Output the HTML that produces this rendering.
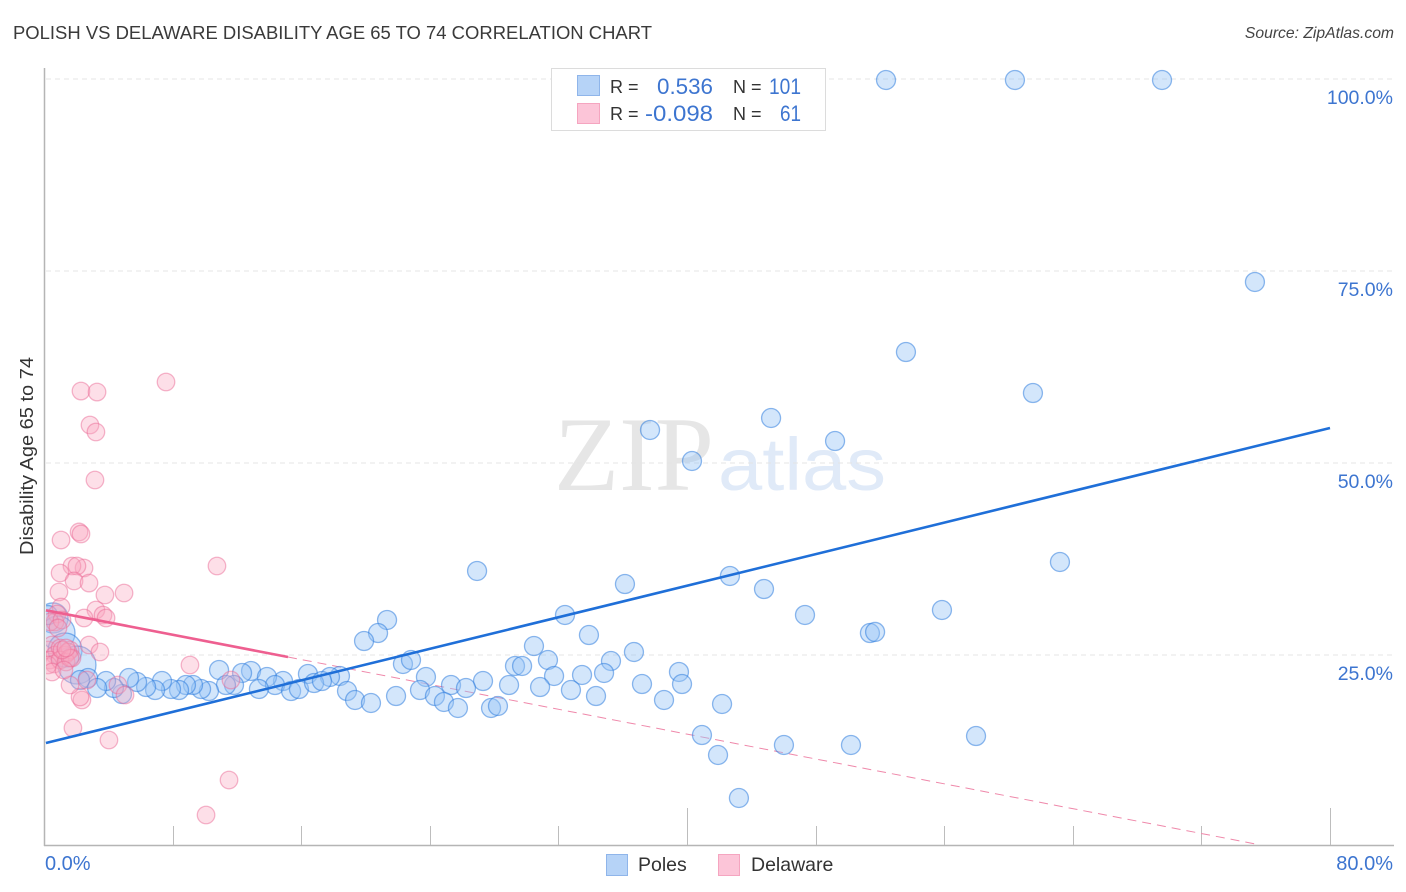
<!DOCTYPE html>
<html lang="en">
<head>
<meta charset="utf-8">
<title>Polish vs Delaware Disability Age 65 to 74 Correlation Chart</title>
<style>
html,body{margin:0;padding:0;background:#fff;}
body{width:1406px;height:892px;overflow:hidden;font-family:"Liberation Sans",sans-serif;}
svg{display:block;}
text{font-family:"Liberation Sans",sans-serif;}
</style>
</head>
<body>
<svg id="chart" xmlns="http://www.w3.org/2000/svg" width="1406" height="892" viewBox="0 0 1406 892">
  <defs>
    <clipPath id="plot-clip"><rect x="46" y="60" width="1348" height="785"/></clipPath>
  </defs>
  <rect width="1406" height="892" fill="#fff"/>
  <text x="13" y="39" font-size="18.5" fill="#3a3a3a" textLength="639" lengthAdjust="spacingAndGlyphs">POLISH VS DELAWARE DISABILITY AGE 65 TO 74 CORRELATION CHART</text>
  <text x="1394" y="38" font-size="15.7" font-style="italic" fill="#444" text-anchor="end">Source: ZipAtlas.com</text>
  <text x="0" y="0" transform="translate(33,456) rotate(-90)" font-size="18" fill="#333" text-anchor="middle" textLength="198" lengthAdjust="spacingAndGlyphs">Disability Age 65 to 74</text>

  <g>
    <text x="554" y="490" font-size="106" fill="#e6e6e6" textLength="160" lengthAdjust="spacingAndGlyphs" style="font-family:'Liberation Serif',serif">ZIP</text>
    <text x="718" y="490" font-size="74" fill="#e0eaf8" textLength="168" lengthAdjust="spacingAndGlyphs">atlas</text>
  </g>

  <g id="grid"></g>
  <g id="axes"></g>
  <g id="dashed"></g>
  <g id="bubbles" clip-path="url(#plot-clip)"></g>
  <g id="trends"></g>
  <g id="labels"></g>

  <g>
    <rect x="551.5" y="68.5" width="274" height="62" fill="#fff" stroke="#dcdcdc" stroke-width="1"/>
    <rect x="577.5" y="75.5" width="22" height="20" fill="#b6d3f7" stroke="#8fb5ea"/>
    <rect x="577.5" y="103.5" width="22" height="20" fill="#fcc5d8" stroke="#f5a5c0"/>
    <text x="610" y="93" font-size="18" fill="#333">R =</text>
    <text x="657" y="94" font-size="22" fill="#3d75d0" textLength="56" lengthAdjust="spacingAndGlyphs">0.536</text>
    <text x="733" y="93" font-size="18" fill="#333">N =</text>
    <text x="769" y="94" font-size="22" fill="#3d75d0" textLength="32" lengthAdjust="spacingAndGlyphs">101</text>
    <text x="610" y="120" font-size="18" fill="#333">R =</text>
    <text x="645" y="121" font-size="22" fill="#3d75d0" textLength="68" lengthAdjust="spacingAndGlyphs">-0.098</text>
    <text x="733" y="120" font-size="18" fill="#333">N =</text>
    <text x="780" y="121" font-size="22" fill="#3d75d0" textLength="21" lengthAdjust="spacingAndGlyphs">61</text>
  </g>

  <g>
    <rect x="606.5" y="854.5" width="21" height="21" fill="#b6d3f7" stroke="#8fb5ea"/>
    <text x="638" y="871" font-size="19.5" fill="#333">Poles</text>
    <rect x="718.5" y="854.5" width="21" height="21" fill="#fcc5d8" stroke="#f5a5c0"/>
    <text x="751" y="871" font-size="19.5" fill="#333">Delaware</text>
  </g>
</svg>
<script>
const yTicks = [100, 75, 50, 25];
const yTickLabels = ["100.0%", "75.0%", "50.0%", "25.0%"];
const xTickValues = [0, 8, 16, 24, 32, 40, 48, 56, 64, 72, 80];
const xMajorTicks = [40, 80];
const xEndLabels = ["0.0%", "80.0%"];

const polesX = [52.38,60.40,69.55,75.33,53.62,61.52,45.23,37.70,49.21,40.31,26.94,63.20,42.67,36.14,44.79,47.34,55.86,32.41,21.34,20.78,19.91,33.90,51.38,51.70,30.48,36.70,31.35,22.33,22.83,35.27,29.30,29.74,39.50,39.69,10.89,12.88,12.32,16.42,18.41,17.79,23.76,31.73,33.47,34.84,37.20,27.31,28.93,25.32,26.25,23.39,21.90,24.32,24.88,25.75,27.81,28.24,30.86,32.78,34.34,38.57,42.18,18.85,19.35,20.34,14.87,13.87,14.37,13.37,15.37,15.86,16.80,17.29,11.82,11.32,10.26,9.77,9.27,8.83,8.40,7.90,7.34,6.91,6.35,5.79,5.29,4.85,4.35,3.86,2.74,2.24,40.93,41.93,43.23,46.03,50.20,57.98,3.30,0.25];
const polesY = [99.87,99.87,99.87,73.57,64.45,59.11,55.86,54.30,52.86,50.26,35.94,37.11,35.29,34.24,33.59,30.21,30.86,30.21,29.56,27.86,26.82,27.60,27.86,28.00,26.17,25.39,24.35,23.83,24.35,24.22,23.57,23.57,22.79,21.22,23.05,22.92,22.66,22.53,22.27,22.14,22.14,22.27,22.40,22.66,21.22,21.61,21.09,21.09,20.70,20.44,19.66,19.66,18.88,18.10,18.10,18.36,20.83,20.44,19.66,19.14,18.62,20.31,19.14,18.75,21.61,22.14,21.09,20.57,20.31,20.57,21.35,21.61,21.09,21.09,20.31,20.57,21.09,21.09,20.44,20.57,21.61,20.44,20.83,21.48,22.01,19.92,20.70,21.61,22.01,21.74,14.58,11.98,6.38,13.28,13.28,14.45,20.70,30.20];
const polesBigX = [0.56,0.87,1.31,2.05];
const polesBigY = [29.82,27.86,25.65,23.70];
const polesBigWeight = [2.5,3.2,3.2,4.0];

const delawareX = [7.59,2.30,3.30,2.86,3.23,3.17,2.18,2.30,1.06,10.76,2.49,1.74,2.05,1.00,1.87,2.80,0.93,4.98,3.79,1.06,3.23,0.81,2.49,3.67,3.86,0.68,0.37,1.12,0.87,2.80,3.48,9.08,11.63,4.60,5.04,2.36,2.24,1.62,2.67,1.80,4.04,11.51,10.08,0.25,0.50,0.68,1.00,1.31,1.62,1.49,0.37,0.62,0.25,1.00,1.37,1.74,1.62,1.12,1.37,0.50,1.24];
const delawareY = [60.55,59.37,59.24,54.95,54.04,47.79,41.02,40.76,39.97,36.59,36.33,36.59,36.59,35.68,34.64,34.37,33.20,33.07,32.81,31.25,30.86,30.34,29.82,30.21,29.82,29.30,29.30,29.56,28.52,26.30,25.39,23.70,21.74,21.09,19.79,19.14,19.53,21.09,21.74,15.49,13.93,8.72,4.17,25.65,26.30,25.00,25.91,25.00,25.65,25.39,24.35,23.83,23.70,24.35,24.09,24.61,24.61,25.65,25.91,22.79,23.05];

const polesTrendX = [0.12, 80];
const polesTrendY = [13.54, 54.56];
const delawareSolidX = [0.12, 15.18];
const delawareSolidY = [30.82, 24.74];
const delawareDashX = [15.18, 75.6];
const delawareDashY = [24.74, 0.3];

const NS = "http://www.w3.org/2000/svg";
function sx(v){ return 44 + v * 16.075; }
function sy(v){ return 79 + (100 - v) * 7.68; }
function rad(w){ return 9.5 * Math.sqrt(w); }
function make(tag, parent, attrs){
  const el = document.createElementNS(NS, tag);
  for (const k in attrs) el.setAttribute(k, attrs[k]);
  parent.appendChild(el);
  return el;
}

const grid = document.getElementById('grid');
const axes = document.getElementById('axes');
const labels = document.getElementById('labels');
const bubbles = document.getElementById('bubbles');
const trends = document.getElementById('trends');
const dashed = document.getElementById('dashed');

yTicks.forEach(function(t, i){
  const g = make('line', grid, {x1:46, x2:1394, y1:sy(t), y2:sy(t), stroke:'#e4e4e4', 'stroke-width':1, 'stroke-dasharray':'5 4'});
  
  
  const l = make('text', labels, {x:1393, y:sy(t) + 25, 'font-size':19.5, fill:'#3d75d0', 'text-anchor':'end'});
  l.textContent = yTickLabels[i];
  
  
});

const yAxis = make('line', axes, {x1:44.5, x2:44.5, y1:68, y2:846, stroke:'#b5b5b5', 'stroke-width':1.5});


const xAxis = make('line', axes, {x1:44, x2:1394, y1:845.5, y2:845.5, stroke:'#b5b5b5', 'stroke-width':1.5});


xTickValues.forEach(function(t){
  if (t === 0) return;
  const top = xMajorTicks.indexOf(t) >= 0 ? 808 : 826;
  const k = make('line', axes, {x1:Math.round(sx(t)) + 0.5, x2:Math.round(sx(t)) + 0.5, y1:top, y2:845, stroke:'#bdbdbd', 'stroke-width':1});
  
  
});

const x0Label = make('text', labels, {x:45, y:870, 'font-size':20, fill:'#3d75d0'});
x0Label.textContent = xEndLabels[0];


const x1Label = make('text', labels, {x:1393, y:870, 'font-size':20, fill:'#3d75d0', 'text-anchor':'end'});
x1Label.textContent = xEndLabels[1];



const blueStyle = {fill:'rgba(150,195,245,0.42)', stroke:'rgba(40,120,220,0.52)', 'stroke-width':1.3};
const pinkStyle = {fill:'rgba(250,165,192,0.36)', stroke:'rgba(235,105,148,0.48)', 'stroke-width':1.3};

polesBigX.forEach(function(v, i){
  const c = make('circle', bubbles, Object.assign({cx:sx(v), cy:sy(polesBigY[i]), r:rad(polesBigWeight[i])}, blueStyle));
  
  
});
polesX.forEach(function(v, i){
  const c = make('circle', bubbles, Object.assign({cx:sx(v), cy:sy(polesY[i]), r:rad(1)}, blueStyle));
  
  
});
delawareX.forEach(function(v, i){
  const c = make('circle', bubbles, Object.assign({cx:sx(v), cy:sy(delawareY[i]), r:rad(0.85)}, pinkStyle));
  
  
});

const dash = make('line', dashed, {x1:sx(delawareDashX[0]), y1:sy(delawareDashY[0]), x2:sx(delawareDashX[1]), y2:sy(delawareDashY[1]), stroke:'#ef88aa', 'stroke-width':1, 'stroke-dasharray':'9 6'});


const pinkLine = make('line', trends, {x1:sx(delawareSolidX[0]), y1:sy(delawareSolidY[0]), x2:sx(delawareSolidX[1]), y2:sy(delawareSolidY[1]), stroke:'#ee5f90', 'stroke-width':2.6});


const blueLine = make('line', trends, {x1:sx(polesTrendX[0]), y1:sy(polesTrendY[0]), x2:sx(polesTrendX[1]), y2:sy(polesTrendY[1]), stroke:'#1f6fd8', 'stroke-width':2.6});


</script>
</body>
</html>
